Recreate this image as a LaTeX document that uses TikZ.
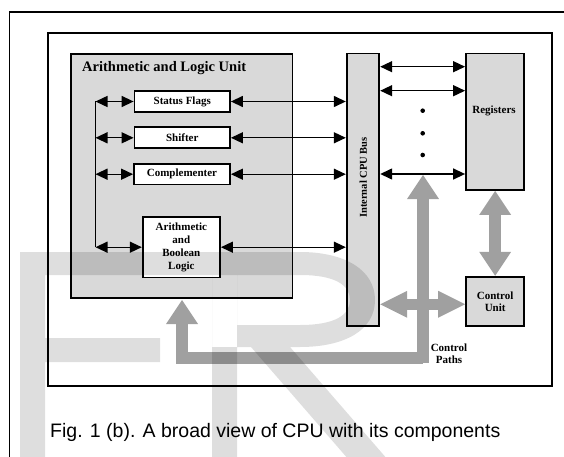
\documentclass[tikz,border=0pt]{standalone}
\usepackage{fontspec}
\setmainfont{Liberation Serif}
\newfontfamily\capfont{Liberation Sans}
\usetikzlibrary{arrows.meta}
\definecolor{boxgray}{HTML}{D9D9D9}
\definecolor{arrgray}{HTML}{A0A0A0}
\tikzset{
  frame/.style={draw=black, line width=1.6pt},
  unitbox/.style={draw=black, line width=1.8pt, fill=boxgray, inner sep=0pt},
  compbox/.style={draw=black, line width=1.8pt, fill=white, inner sep=0pt,
    font=\bfseries\fontsize{11}{12.8}\selectfont, align=center},
  lbl/.style={inner sep=0pt, font=\bfseries\fontsize{11}{12.2}\selectfont, align=center},
  blkline/.style={draw=black, line width=1.4pt},
  dblarrow/.style={blkline, {Triangle[length=12pt,width=11pt]}-{Triangle[length=12pt,width=11pt]}},
  dotmark/.style={circle, fill=black, inner sep=0pt, minimum size=4.6pt},
  gline/.style={draw=arrgray, line join=miter},
  gtip/.tip={Triangle[length=24pt,width=32pt,line width=0pt]},
  gtiph/.tip={Triangle[length=27pt,width=27pt,line width=0pt]},
}
\begin{document}
\begin{tikzpicture}[x=1pt,y=-1pt]
\useasboundingbox (0,0) rectangle (564,457);
\clip (0,0) rectangle (564,457);
% frames
\draw[frame] (9.5,12) rectangle (620,520);
\draw[frame] (47.7,33.3) rectangle (551.7,385.7);
% main units
\node[unitbox, minimum width=221.5pt, minimum height=244.3pt] (alu) at (181.75,175.9) {};
\node[anchor=base west, inner sep=0pt, font=\bfseries\fontsize{14.5}{16}\selectfont] (alut) at (82,72) {Arithmetic and Logic Unit};
\node[unitbox, minimum width=32.6pt, minimum height=272.5pt] (bus) at (363,189.75) {};
\node[lbl, rotate=90, font=\bfseries\fontsize{10.5}{12}\selectfont] (buslbl) at (363.3,177.5) {Internal CPU Bus};
\node[unitbox, minimum width=58.3pt, minimum height=136.5pt] (reg) at (495.15,121.75) {};
\node[lbl] (reglbl) at (494,110.7) {Registers};
\node[unitbox, lbl, minimum width=58.3pt, minimum height=49.3pt, draw=black, line width=1.8pt, fill=boxgray] (cu) at (495.15,301.35) {Control\\Unit};
% ALU components
\node[compbox, minimum width=95.5pt, minimum height=21pt] (sf) at (182.25,101.5) {Status Flags};
\node[compbox, minimum width=95.5pt, minimum height=21pt] (sh) at (182.25,137.8) {Shifter};
\node[compbox, minimum width=96pt, minimum height=20.5pt] (cp) at (182,174.2) {Complementer};
\node[compbox, minimum width=77.3pt, minimum height=60.6pt] (ab) at (181.35,247.2) {Arithmetic\\and\\Boolean\\Logic};
% left distribution line
\coordinate (vtop) at (95.5,101.5);
\coordinate (vbot) at (95.5,247.2);
\draw[blkline] (vtop) -- (vbot);
\draw[dblarrow] (vtop) -- (sf.west);
\draw[dblarrow] (vtop |- sh.west) -- (sh.west);
\draw[dblarrow] (vtop |- cp.west) -- (cp.west);
\draw[dblarrow] (vbot) -- (ab.west);
% to the bus
\draw[dblarrow] (sf.east) -- (sf.east -| bus.west);
\draw[dblarrow] (sh.east) -- (sh.east -| bus.west);
\draw[dblarrow] (cp.east) -- (cp.east -| bus.west);
\draw[dblarrow] (ab.east) -- (ab.east -| bus.west);
% bus to registers
\coordinate (r1) at (0,66.7);
\coordinate (r2) at (0,90.7);
\coordinate (r3) at (0,174);
\draw[dblarrow] (bus.east |- r1) -- (reg.west |- r1);
\draw[dblarrow] (bus.east |- r2) -- (reg.west |- r2);
\draw[dblarrow] (bus.east |- r3) -- (reg.west |- r3);
\node[dotmark] (d1) at (422.7,110.7) {};
\node[dotmark] (d2) at (422.7,133.3) {};
\node[dotmark] (d3) at (422.7,155) {};
% control paths (gray)
\draw[gline, line width=12pt, {gtip}-{gtip}] (reg.south) -- (cu.north);
\coordinate (hy) at (0,304.3);
\draw[gline, line width=11pt, {gtiph}-{gtiph}] (bus.east |- hy) -- (cu.west |- hy);
\coordinate (gb) at (423,363.3);
\coordinate (gt) at (423,175);
\draw[gline, line width=12pt, -{gtip}] (gb) -- (gt);
\coordinate (gc) at (423,357.9);
\coordinate (gk) at (182,357.9);
\coordinate (ga) at (182,300);
\draw[gline, line width=11.5pt, -{gtip}] (gc) -- (gk) -- (ga);
\node[lbl] (cpl) at (449,354) {Control\\Paths};
% caption
\node[anchor=base west, inner sep=0pt, font=\capfont\fontsize{19.5}{22}\selectfont] (cap) at (50,437.7) {Fig. 1 (b). A broad view of CPU with its components};
% watermark
\fill[black, opacity=0.13, nonzero rule]
  (20,252) rectangle (45,475)
  (20,252) rectangle (237,275)
  (20,338) rectangle (160,362)
  (212,252) rectangle (237,475)
  (212,252) -- (300,252) .. controls (345,252) and (375,270) .. (375,300)
     .. controls (375,330) and (345,347) .. (300,347) -- (212,347) -- cycle
  (237,275) -- (237,325) -- (300,325) .. controls (335,325) and (350,315) .. (350,300)
     .. controls (350,285) and (335,275) .. (300,275) -- cycle
  (251,347) -- (290,347) -- (401,475) -- (362,475) -- cycle;
\end{tikzpicture}
\end{document}
